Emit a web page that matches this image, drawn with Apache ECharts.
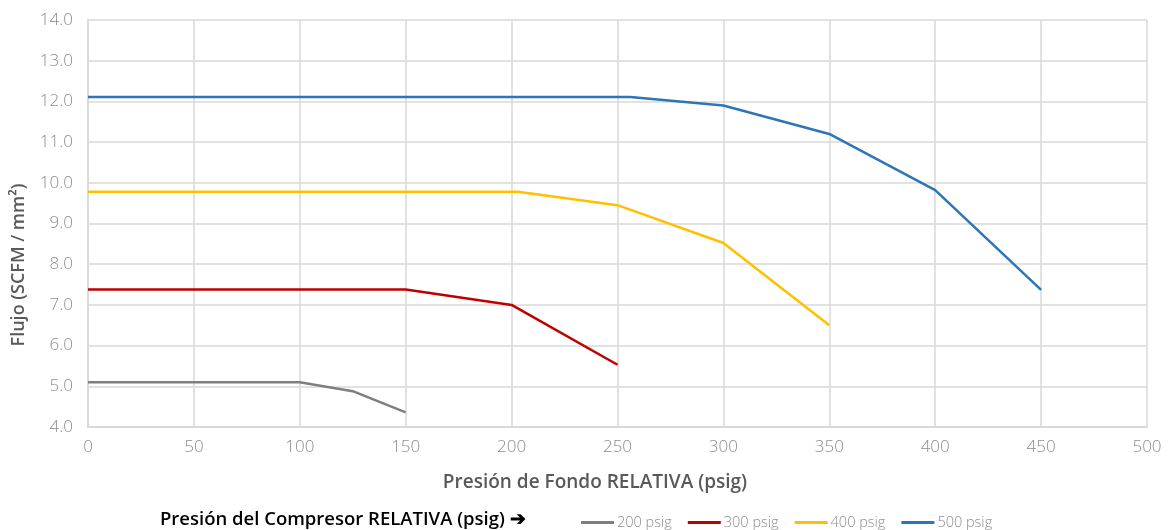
<!DOCTYPE html>
<html>
<head>
<meta charset="utf-8">
<script src="https://cdn.jsdelivr.net/npm/echarts@6/dist/echarts.min.js"></script>
<style>html,body{margin:0;padding:0;background:#fff}#c{width:1171px;height:530px}</style>
</head>
<body>
<div id="c"></div>
<script>
const seriesNames = ['200 psig', '300 psig', '400 psig', '500 psig'];
const x200 = [0, 100, 125, 150];
const y200 = [5.1, 5.1, 4.88, 4.36];
const x300 = [0, 150, 200, 250];
const y300 = [7.38, 7.38, 7.0, 5.53];
const x400 = [0, 203, 250, 300, 350];
const y400 = [9.78, 9.78, 9.45, 8.52, 6.5];
const x500 = [0, 256, 300, 350, 400, 450];
const y500 = [12.11, 12.11, 11.9, 11.2, 9.82, 7.37];
const xTicks = [0, 50, 100, 150, 200, 250, 300, 350, 400, 450, 500];
const yTicks = [4, 5, 6, 7, 8, 9, 10, 11, 12, 13, 14];
const colors = ['#7f7f7f', '#c00000', '#ffc000', '#2e75b6'];
const xTitle = 'Presión de Fondo RELATIVA (psig)';
const yTitle = 'Flujo (SCFM / mm²)';
const legendTitle = 'Presión del Compresor RELATIVA (psig) ➔';

const xs = [x200, x300, x400, x500];
const ys = [y200, y300, y400, y500];
const FONT = '"Open Sans", "Noto Sans", sans-serif';

const chart = echarts.init(document.getElementById('c'));
chart.setOption({
  animation: false,
  color: colors,
  grid: { left: 88, right: 24, top: 20, bottom: 103, containLabel: false, outerBoundsMode: 'none' },
  xAxis: {
    type: 'value', min: xTicks[0], max: xTicks[xTicks.length - 1], interval: 50,
    axisLine: { show: true, lineStyle: { color: '#d9d9d9', width: 2 } },
    axisTick: { show: false },
    axisLabel: { fontFamily: FONT, fontSize: 17, fontWeight: 300, color: '#8c8c8c', margin: 12 },
    splitLine: { show: true, lineStyle: { color: '#d9d9d9', width: 1.5 } }
  },
  yAxis: {
    type: 'value', min: yTicks[0], max: yTicks[yTicks.length - 1], interval: 1,
    axisLine: { show: true, lineStyle: { color: '#d9d9d9', width: 2 } },
    axisTick: { show: false },
    axisLabel: { fontFamily: FONT, fontSize: 17, fontWeight: 300, color: '#8c8c8c', margin: 15,
      formatter: v => v.toFixed(1) },
    splitLine: { show: true, lineStyle: { color: '#d9d9d9', width: 1.5 } }
  },
  legend: {
    left: 576, top: 510,
    itemWidth: 33, itemHeight: 3, itemGap: 16, icon: 'rect',
    textStyle: { fontFamily: FONT, fontSize: 14.5, fontWeight: 300, color: '#8c8c8c', padding: [0, 0, 0, -2] },
    data: seriesNames
  },
  graphic: [
    { type: 'text', x: 595, y: 483,
      style: { text: xTitle, font: '600 19px ' + FONT, fill: '#595959', align: 'center', verticalAlign: 'middle' } },
    { type: 'text', x: 19, y: 265, rotation: Math.PI / 2,
      style: { text: yTitle, font: '600 18px ' + FONT, fill: '#595959', align: 'center', verticalAlign: 'middle' } },
    { type: 'text', left: 160, top: 510,
      style: { text: legendTitle, font: '600 18.5px ' + FONT, fill: '#000' } }
  ],
  series: seriesNames.map((n, i) => ({
    name: n, type: 'line', symbol: 'none',
    lineStyle: { width: 2.5, color: colors[i] },
    data: xs[i].map((x, j) => [x, ys[i][j]])
  }))
});
</script>
</body>
</html>
